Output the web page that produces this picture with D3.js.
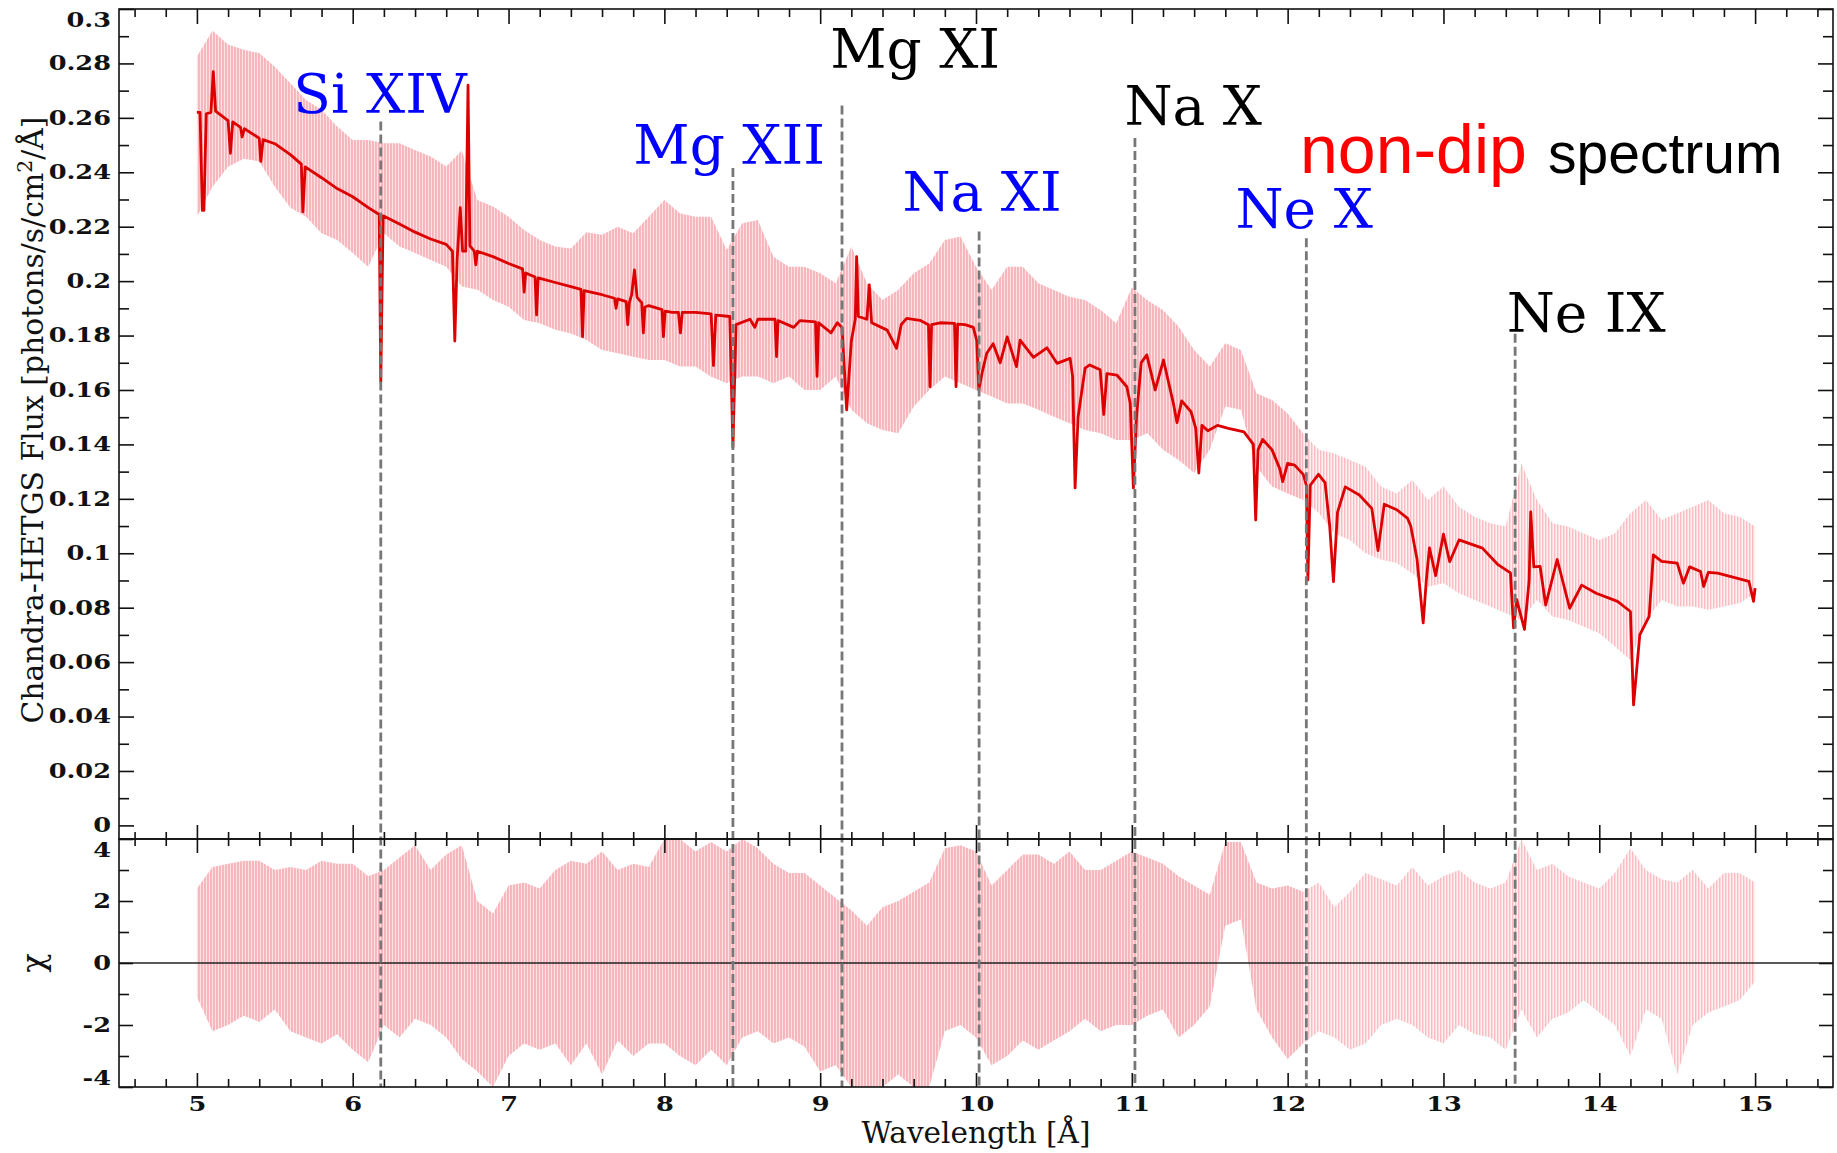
<!DOCTYPE html>
<html><head><meta charset="utf-8">
<script src="https://cdn.jsdelivr.net/npm/d3@7"></script>
<style>body{margin:0;background:#fff;} svg{display:block;}</style>
</head><body>
<svg id="chart" width="1837" height="1153"></svg>
<script>
// ---------------- DATA ----------------
// Best-fit model (wavelength [Å], flux)
const modelPoints = [
[5.00,0.262],[5.02,0.262],[5.035,0.226],[5.045,0.226],[5.06,0.2615],[5.09,0.262],[5.105,0.277],[5.12,0.2625],
[5.2,0.259],[5.215,0.247],[5.23,0.2585],[5.28,0.2565],[5.29,0.253],[5.305,0.256],[5.4,0.2525],[5.41,0.244],
[5.425,0.252],[5.5,0.2505],[5.6,0.2465],[5.67,0.243],[5.68,0.2255],[5.695,0.242],[5.8,0.238],[5.9,0.234],
[6.0,0.231],[6.1,0.227],[6.17,0.2245],[6.18,0.163],[6.195,0.224],[6.3,0.221],[6.4,0.218],[6.5,0.2155],
[6.6,0.2135],[6.64,0.211],[6.655,0.178],[6.67,0.208],[6.69,0.227],[6.705,0.211],[6.725,0.211],[6.74,0.272],
[6.752,0.213],[6.78,0.211],[6.79,0.206],[6.8,0.211],[6.9,0.209],[7.0,0.2065],[7.09,0.2045],[7.1,0.196],
[7.11,0.203],[7.17,0.2015],[7.18,0.1876],[7.19,0.2012],[7.3,0.1995],[7.4,0.198],[7.465,0.197],[7.475,0.1796],
[7.485,0.1965],[7.6,0.195],[7.68,0.1937],[7.69,0.19],[7.7,0.1935],[7.755,0.1925],[7.765,0.184],[7.775,0.192],
[7.79,0.195],[7.808,0.2041],[7.825,0.194],[7.855,0.192],[7.865,0.181],[7.875,0.1905],[7.9,0.191],[7.985,0.1895],
[7.994,0.1796],[8.005,0.189],[8.05,0.1885],[8.09,0.1885],[8.103,0.181],[8.115,0.1885],[8.2,0.1885],[8.3,0.188],
[8.315,0.169],[8.33,0.1875],[8.42,0.187],[8.44,0.139],[8.46,0.184],[8.55,0.186],[8.58,0.183],[8.6,0.186],
[8.71,0.186],[8.72,0.1723],[8.73,0.1855],[8.83,0.183],[8.87,0.1855],[8.97,0.185],[8.98,0.165],[8.99,0.1847],
[9.07,0.181],[9.11,0.1847],[9.14,0.183],[9.17,0.1527],[9.2,0.178],[9.225,0.186],[9.234,0.209],[9.245,0.187],
[9.3,0.186],[9.315,0.1986],[9.33,0.1847],[9.43,0.182],[9.49,0.1753],[9.52,0.184],[9.555,0.1863],[9.64,0.1856],
[9.695,0.184],[9.705,0.1612],[9.715,0.184],[9.77,0.1847],[9.862,0.1845],[9.872,0.1612],[9.882,0.1842],[9.93,0.184],
[9.983,0.183],[10.005,0.178],[10.018,0.160],[10.04,0.1665],[10.069,0.1735],[10.11,0.177],[10.155,0.170],[10.2,0.1795],
[10.26,0.1686],[10.283,0.1783],[10.369,0.172],[10.455,0.1755],[10.52,0.1698],[10.604,0.1716],[10.62,0.165],[10.636,0.124],
[10.655,0.15],[10.7,0.168],[10.73,0.1692],[10.797,0.1674],[10.82,0.151],[10.84,0.166],[10.904,0.1655],[10.968,0.1612],
[10.99,0.155],[11.01,0.124],[11.03,0.150],[11.06,0.170],[11.096,0.1729],[11.15,0.160],[11.203,0.171],[11.267,0.155],
[11.29,0.148],[11.32,0.156],[11.38,0.152],[11.41,0.146],[11.43,0.1295],[11.45,0.147],[11.488,0.145],[11.55,0.147],
[11.62,0.1459],[11.72,0.1446],[11.78,0.14],[11.795,0.1122],[11.81,0.138],[11.84,0.1418],[11.9,0.138],[11.95,0.131],
[11.968,0.1263],[12.0,0.133],[12.045,0.1324],[12.1,0.129],[12.12,0.125],[12.13,0.0902],[12.145,0.125],[12.198,0.129],
[12.24,0.126],[12.27,0.11],[12.294,0.0896],[12.32,0.115],[12.37,0.1244],[12.46,0.1214],[12.54,0.1165],[12.58,0.101],
[12.62,0.118],[12.7,0.116],[12.77,0.1128],[12.79,0.110],[12.83,0.098],[12.87,0.0744],[12.89,0.09],[12.91,0.102],
[12.95,0.0918],[13.0,0.107],[13.04,0.0969],[13.1,0.1049],[13.25,0.1019],[13.35,0.0958],[13.43,0.0928],[13.45,0.0726],
[13.47,0.083],[13.52,0.072],[13.55,0.09],[13.56,0.1152],[13.58,0.095],[13.62,0.0952],[13.656,0.081],[13.73,0.0977],
[13.81,0.0798],[13.887,0.0883],[13.98,0.0853],[14.117,0.0823],[14.2,0.0786],[14.22,0.0443],[14.26,0.07],[14.32,0.0768],
[14.347,0.0994],[14.4,0.097],[14.5,0.0964],[14.54,0.089],[14.58,0.095],[14.65,0.0933],[14.67,0.0878],[14.7,0.093],
[14.76,0.0927],[14.96,0.0897],[14.99,0.0823],[15.0,0.0872]
];

// Observed data envelope (error-bar extent), sampled every 0.1 Å from 5.0 to 15.0
const envStart = 5.0, envStep = 0.1;
const fluxHi = [0.2825,0.292,0.287,0.285,0.2838,0.2788,0.2727,0.2666,0.263,0.2568,
0.2519,0.2519,0.2507,0.2507,0.2482,0.2458,0.2421,0.248,0.2298,0.2274,
0.2237,0.2188,0.2151,0.2127,0.212,0.2180,0.2170,0.2200,0.2176,0.2237,
0.2298,0.2249,0.2237,0.2237,0.2115,0.2213,0.2225,0.209,0.2053,0.2053,
0.2029,0.1992,0.2127,0.1992,0.1931,0.1967,0.2029,0.2065,0.2151,0.2164,
0.2053,0.1967,0.2053,0.2053,0.1992,0.1967,0.1943,0.1931,0.1894,0.1845,
0.1977,0.193,0.1894,0.1833,0.1747,0.1686,0.1772,0.1747,0.1588,0.1563,
0.1514,0.144,0.138,0.1367,0.1343,0.1318,0.1245,0.122,0.1269,0.1196,
0.1245,0.1171,0.1134,0.111,0.1098,0.133,0.1196,0.111,0.1098,0.1073,
0.1049,0.1073,0.1147,0.1196,0.1122,0.1147,0.1171,0.1196,0.1147,0.1134,0.1098];
const fluxLo = [0.2237,0.2347,0.242,0.245,0.244,0.2347,0.227,0.2237,0.2176,0.2151,
0.2103,0.2053,0.2176,0.2127,0.2103,0.2078,0.2053,0.198,0.1968,0.1931,
0.1906,0.1857,0.1845,0.1821,0.1808,0.1784,0.1747,0.1735,0.1722,0.171,
0.171,0.1686,0.1686,0.1649,0.1625,0.165,0.165,0.1625,0.165,0.160,
0.160,0.165,0.1527,0.1478,0.1453,0.1441,0.1538,0.160,0.165,0.1625,
0.160,0.1576,0.155,0.155,0.1527,0.1502,0.1478,0.1453,0.1441,0.1416,
0.1416,0.1441,0.138,0.1343,0.1295,0.138,0.1539,0.1527,0.1318,0.1245,
0.122,0.1196,0.1148,0.1073,0.1049,0.100,0.0976,0.0964,0.0926,0.0877,
0.089,0.0853,0.0828,0.0804,0.078,0.0755,0.0828,0.0768,0.0755,0.073,
0.0706,0.0657,0.0608,0.0755,0.0828,0.0804,0.0804,0.0792,0.0804,0.0816,0.0853];
// Residuals (chi) envelope, same sampling
const chiHi = [2.4,3.1,3.2,3.3,3.3,3.0,3.1,3.0,3.3,3.2,
3.2,2.8,3.0,3.4,3.8,3.0,3.5,3.8,2.0,1.6,
2.5,2.6,2.4,3.0,3.3,3.2,3.6,3.0,3.2,3.1,
4.0,4.0,3.6,3.9,3.6,4.0,3.7,3.2,2.9,2.9,
2.5,2.1,1.7,1.2,1.8,2.0,2.3,2.6,3.7,3.8,
3.6,2.5,3.0,3.5,3.5,3.2,3.6,3.0,3.0,3.3,
3.6,3.4,3.2,2.8,2.5,2.2,3.9,3.9,2.6,2.4,
2.5,2.3,2.6,1.8,2.3,2.9,2.7,2.5,3.1,2.5,
2.8,3.0,2.6,2.4,2.6,4.0,3.0,3.2,2.8,2.6,
2.4,2.9,3.7,3.0,2.7,2.6,3.0,2.4,2.9,2.9,2.6];
const chiLo = [-1.1,-2.2,-2.0,-1.7,-1.9,-1.5,-2.2,-2.4,-2.6,-2.3,
-2.8,-3.2,-2.0,-2.4,-1.8,-2.0,-2.4,-3.1,-3.5,-4.0,
-3.0,-2.6,-2.8,-2.6,-3.3,-2.6,-3.6,-2.5,-3.0,-2.6,
-2.6,-3.0,-3.3,-2.8,-3.3,-2.4,-2.2,-2.6,-2.4,-2.7,
-3.5,-3.3,-4.0,-4.0,-4.0,-3.6,-4.0,-4.0,-2.2,-2.0,
-2.4,-3.3,-3.0,-2.5,-2.8,-2.5,-2.2,-1.8,-2.2,-2.0,
-2.0,-1.7,-1.5,-2.4,-2.0,-1.4,1.2,1.4,-1.5,-2.4,
-3.1,-2.6,-2.2,-2.4,-2.8,-2.6,-2.0,-1.8,-2.0,-2.4,
-2.6,-2.0,-2.3,-2.4,-2.8,-1.5,-2.4,-1.8,-1.6,-1.2,
-1.6,-2.0,-3.0,-1.5,-1.8,-3.6,-2.0,-1.6,-1.4,-1.2,-0.6];

// Marked ions
const ionNames = ["Si XIV","Mg XII","Mg XI","Na XI","Na X","Ne X","Ne IX"];
const ionWave  = [6.18, 8.44, 9.14, 10.02, 11.02, 12.12, 13.46];
const ionSequence = ["H-like","H-like","He-like","H-like","He-like","H-like","He-like"];

// Axis ticks
const waveMajor = [5,6,7,8,9,10,11,12,13,14,15];
const waveMinor = [4.6,4.8,5.2,5.4,5.6,5.8,6.2,6.4,6.6,6.8,7.2,7.4,7.6,7.8,8.2,8.4,8.6,8.8,9.2,9.4,9.6,9.8,
  10.2,10.4,10.6,10.8,11.2,11.4,11.6,11.8,12.2,12.4,12.6,12.8,13.2,13.4,13.6,13.8,14.2,14.4,14.6,14.8,15.2,15.4];
const fluxMajor = [0,0.02,0.04,0.06,0.08,0.1,0.12,0.14,0.16,0.18,0.2,0.22,0.24,0.26,0.28,0.3];
const fluxMinor = [0.01,0.03,0.05,0.07,0.09,0.11,0.13,0.15,0.17,0.19,0.21,0.23,0.25,0.27,0.29];
const chiMajor = [-4,-2,0,2,4];
const chiMinor = [-3,-1,1,3];

// ---------------- LAYOUT ----------------
const X0 = 119, X1 = 1833, Y0 = 9, YM = 839, Y1 = 1087;
// label placement (centre wavelength, baseline flux, dashed-line top flux)
const labelLayout = {
  "Si XIV":[6.175,0.2618,0.2587], "Mg XII":[8.416,0.2431,0.2416], "Mg XI":[9.609,0.2784,0.2645],
  "Na XI":[10.039,0.2259,0.2182], "Na X":[11.394,0.2574,0.2526], "Ne X":[12.106,0.2194,0.2158],
  "Ne IX":[13.916,0.1814,0.1807]
};
const seqColor = {"H-like":"#0000ff","He-like":"#000000"};
const sparseFrom = 12.1;   // data become sparser (fewer counts) beyond this wavelength

const x = d3.scaleLinear().domain([4.5,15.5]).range([X0,X1]);
const yF = d3.scaleLinear().domain([-0.005,0.3]).range([YM,Y0]);
const yC = d3.scaleLinear().domain([-4,4]).range([Y1,YM]);

const svg = d3.select("#chart");
svg.append("rect").attr("width",1837).attr("height",1153).attr("fill","#fff");
const defs = svg.append("defs");
function stripes(id, c1, c2, w){
  const p = defs.append("pattern").attr("id",id).attr("patternUnits","userSpaceOnUse")
    .attr("width",3).attr("height",8);
  p.append("rect").attr("width",3).attr("height",8).attr("fill",c2);
  p.append("rect").attr("width",w).attr("height",8).attr("fill",c1);
}
stripes("dense","#f7b4ba","#fde3e5",1.9);
stripes("sparse","#f8bcc2","#fff1f2",1.4);
defs.append("clipPath").attr("id","clipTop").append("rect")
  .attr("x",X0).attr("y",Y0).attr("width",X1-X0).attr("height",YM-Y0);
defs.append("clipPath").attr("id","clipBot").append("rect")
  .attr("x",X0).attr("y",YM).attr("width",X1-X0).attr("height",Y1-YM);

const env = fluxHi.map((h,i)=>({w: +(envStart+i*envStep).toFixed(2), hi:h, lo:fluxLo[i], chiHi:chiHi[i], chiLo:chiLo[i]}));
const envA = env.filter(d=>d.w<=sparseFrom+1e-9), envB = env.filter(d=>d.w>=sparseFrom-1e-9);

// pink data envelopes
const areaF = d3.area().x(d=>x(d.w)).y0(d=>yF(d.lo)).y1(d=>yF(d.hi));
const areaC = d3.area().x(d=>x(d.w)).y0(d=>yC(d.chiLo)).y1(d=>yC(d.chiHi));
[[envA,"dense"],[envB,"sparse"]].forEach(([data,pid])=>{
  svg.append("path").datum(data).attr("clip-path","url(#clipTop)").attr("fill",`url(#${pid})`).attr("d",areaF);
  svg.append("path").datum(data).attr("clip-path","url(#clipBot)").attr("fill",`url(#${pid})`).attr("d",areaC);
});

// zero line in residual panel
svg.append("line").attr("x1",X0).attr("x2",X1).attr("y1",yC(0)).attr("y2",yC(0))
  .attr("stroke","#222").attr("stroke-width",1.6);

// model
svg.append("path").datum(modelPoints).attr("clip-path","url(#clipTop)")
  .attr("fill","none").attr("stroke","#dd0000").attr("stroke-width",2.8)
  .attr("stroke-linejoin","round")
  .attr("d", d3.line().x(d=>x(d[0])).y(d=>yF(d[1])));

// dashed ion lines + labels
ionNames.forEach((name,i)=>{
  const L = labelLayout[name];
  svg.append("line").attr("x1",x(ionWave[i])).attr("x2",x(ionWave[i]))
    .attr("y1",yF(L[2])).attr("y2",Y1)
    .attr("stroke","#777").attr("stroke-width",2.8).attr("stroke-dasharray","9,4");
  svg.append("text").attr("x",x(L[0])).attr("y",yF(L[1]))
    .attr("text-anchor","middle").attr("font-family","DejaVu Serif").attr("font-size",55)
    .attr("fill",seqColor[ionSequence[i]]).text(name);
});

// title annotation
const ann = svg.append("text").attr("y",173).attr("font-family","Liberation Sans, Arial, sans-serif");
ann.append("tspan").attr("x",1300).attr("font-size",68).attr("fill","#ff0000").text("non-dip");
ann.append("tspan").attr("x",1548).attr("font-size",57).attr("fill","#000").text("spectrum");

// frames
svg.append("rect").attr("x",X0).attr("y",Y0).attr("width",X1-X0).attr("height",YM-Y0)
  .attr("fill","none").attr("stroke","#111").attr("stroke-width",1.6);
svg.append("rect").attr("x",X0).attr("y",YM).attr("width",X1-X0).attr("height",Y1-YM)
  .attr("fill","none").attr("stroke","#111").attr("stroke-width",1.6);

// axes
function styleAxis(g){
  g.select(".domain").remove();
  g.selectAll(".tick line").attr("stroke","#111").attr("stroke-width",1.6);
  g.selectAll(".tick text").attr("font-family","DejaVu Serif").attr("font-weight","bold")
    .attr("font-size",20).attr("fill","#111")
    .each(function(){
      const L = this.getComputedTextLength();
      if (L > 0) d3.select(this).attr("textLength", L*1.28).attr("lengthAdjust","spacingAndGlyphs");
    });
}
function addAxis(axis, tx, ty){
  const g = svg.append("g").attr("transform",`translate(${tx},${ty})`).call(axis);
  styleAxis(g); return g;
}
const noLab = ()=>"";
// x axes
addAxis(d3.axisTop(x).tickValues(waveMajor).tickSize(-15).tickFormat(noLab),0,Y0);
addAxis(d3.axisTop(x).tickValues(waveMinor).tickSize(-8).tickFormat(noLab),0,Y0);
addAxis(d3.axisTop(x).tickValues(waveMajor).tickSize(14).tickFormat(noLab),0,YM);
addAxis(d3.axisTop(x).tickValues(waveMinor).tickSize(7).tickFormat(noLab),0,YM);
addAxis(d3.axisBottom(x).tickValues(waveMajor).tickSize(14).tickFormat(noLab),0,YM);
addAxis(d3.axisBottom(x).tickValues(waveMinor).tickSize(7).tickFormat(noLab),0,YM);
addAxis(d3.axisBottom(x).tickValues(waveMajor).tickSize(-14).tickPadding(10).tickFormat(d=>String(d)),0,Y1);
addAxis(d3.axisBottom(x).tickValues(waveMinor).tickSize(-8).tickFormat(noLab),0,Y1);
// flux y axes
const gF = addAxis(d3.axisLeft(yF).tickValues(fluxMajor).tickSize(-15).tickPadding(8)
  .tickFormat(d=>String(+d.toFixed(2))),X0,0);
gF.selectAll(".tick text").attr("transform",d=>Math.abs(d-0.3)<1e-9?"translate(0,11)":null);
addAxis(d3.axisLeft(yF).tickValues(fluxMinor).tickSize(-10).tickFormat(noLab),X0,0);
addAxis(d3.axisRight(yF).tickValues(fluxMajor).tickSize(-15).tickFormat(noLab),X1,0);
addAxis(d3.axisRight(yF).tickValues(fluxMinor).tickSize(-10).tickFormat(noLab),X1,0);
// chi y axes
const gC = addAxis(d3.axisLeft(yC).tickValues(chiMajor).tickSize(-14).tickPadding(8)
  .tickFormat(d=>String(d)),X0,0);
gC.selectAll(".tick text").attr("transform",d=>d===4?"translate(0,11)":(d===-4?"translate(0,-9)":null));
addAxis(d3.axisLeft(yC).tickValues(chiMinor).tickSize(-10).tickFormat(noLab),X0,0);
addAxis(d3.axisRight(yC).tickValues(chiMajor).tickSize(-14).tickFormat(noLab),X1,0);
addAxis(d3.axisRight(yC).tickValues(chiMinor).tickSize(-10).tickFormat(noLab),X1,0);

// axis titles (font size fitted to the measured title lengths)
function fitText(sel, target, base){
  const L = sel.node().getComputedTextLength();
  if (L > 0) sel.attr("font-size", base*target/L);
}
const xt = svg.append("text").attr("x",x(10)).attr("y",1143).attr("text-anchor","middle")
  .attr("font-family","DejaVu Serif").attr("font-size",28).attr("fill","#111").text("Wavelength [Å]");
fitText(xt, 229, 28);
const yt = svg.append("text").attr("transform","translate(43,420) rotate(-90)").attr("text-anchor","middle")
  .attr("font-family","DejaVu Serif").attr("font-size",28).attr("fill","#111");
yt.append("tspan").text("Chandra-HETGS Flux [photons/s/cm");
yt.append("tspan").attr("dy",-11).attr("font-size","0.68em").text("2");
yt.append("tspan").attr("dy",11).text("/Å]");
fitText(yt, 607, 28);
svg.append("text").attr("transform","translate(44,963) rotate(-90)").attr("text-anchor","middle")
  .attr("font-family","DejaVu Serif").attr("font-size",32).attr("fill","#111").text("χ");
</script>
</body></html>
